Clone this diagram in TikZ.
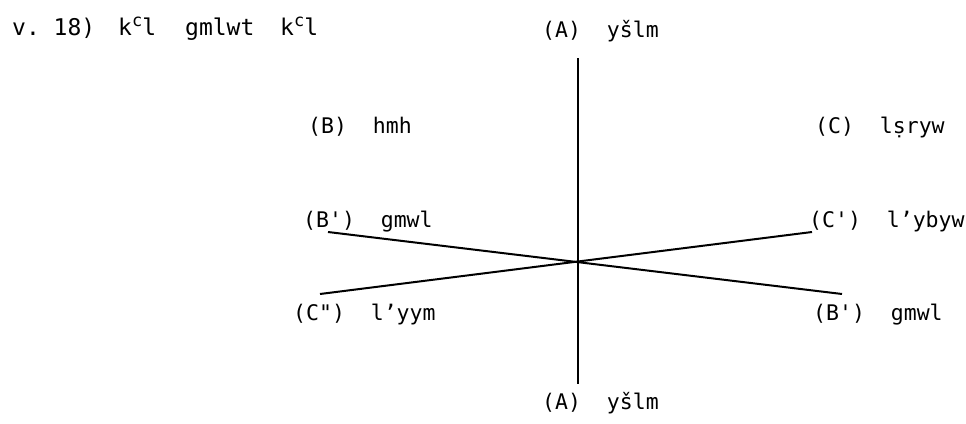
\documentclass[tikz,border=0pt]{standalone}
\usepackage{fontspec}
\newfontfamily\tw{DejaVu Sans Mono}
\newcommand{\supc}{\raisebox{8.5pt}{\fontsize{17}{17}\selectfont c}}
\begin{document}
\begin{tikzpicture}[x=1pt,y=-1pt,
  lbl/.style={font=\tw\fontsize{21.5}{24}\selectfont, inner sep=0pt, anchor=base west},
  ttl/.style={font=\tw\fontsize{23}{26}\selectfont, inner sep=0pt, anchor=base west},
  ln/.style={line width=2pt, black}]
\useasboundingbox[fill=white] (0,0) rectangle (966,423);
% title
\node[ttl] (t1) at (12,35) {v.~18)};
\node[ttl] (t2) at (118,35) {k\supc l};
\node[ttl] (t3) at (185,35) {gmlwt};
\node[ttl] (t4) at (280,35) {k\supc l};
% labels
\node[lbl] (Atop) at (542,37) {(A)~~yšlm};
\node[lbl] (B) at (308,133) {(B)~~hmh};
\node[lbl] (C) at (815,133) {(C)~~lṣryw};
\node[lbl] (Bpl) at (303,227) {(B')~~gmwl};
\node[lbl] (Cp) at (809,227) {(C')~~l’ybyw};
\node[lbl] (Cpp) at (293,320) {(C")~~l’yym};
\node[lbl] (Bpr) at (813,320) {(B')~~gmwl};
\node[lbl] (Abot) at (542,409) {(A)~~yšlm};
% lines
\coordinate (o) at (578,262);
\coordinate (vt) at (578,58);
\coordinate (vb) at (578,384);
\coordinate (bl) at (328,232);
\coordinate (br) at (842,294);
\coordinate (cl) at (320,294);
\coordinate (cr) at (812,232);
\draw[ln] (vt) -- (vb);
\draw[ln] (bl) -- (br);
\draw[ln] (cl) -- (cr);
\end{tikzpicture}
\end{document}
